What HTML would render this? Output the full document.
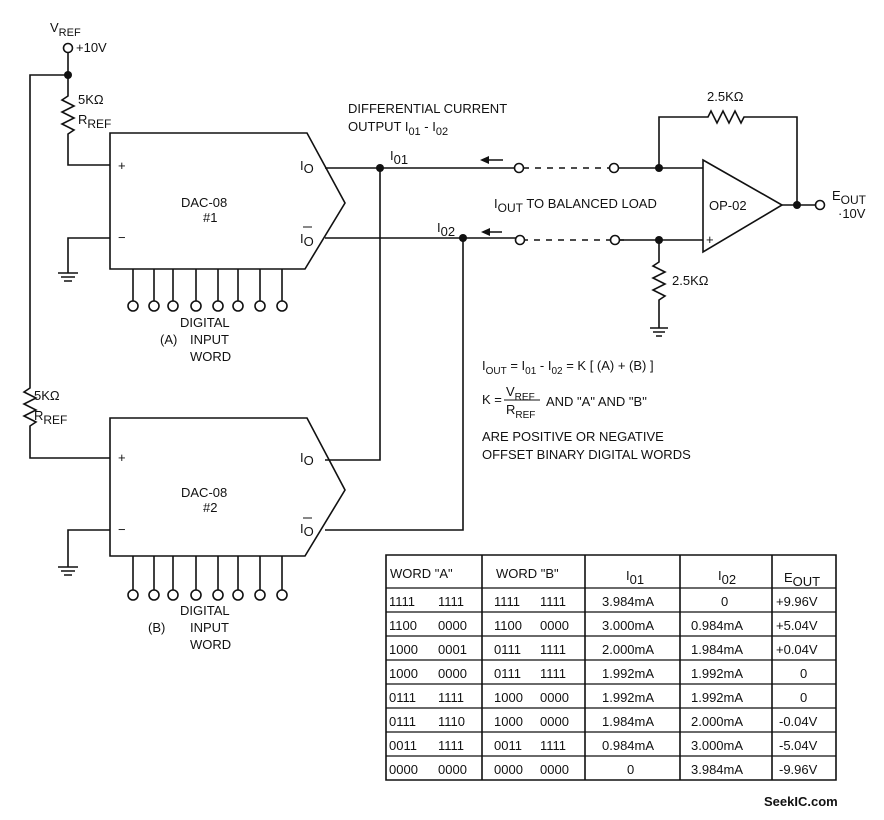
<!DOCTYPE html>
<html><head><meta charset="utf-8"><style>
body{margin:0;background:#fff}
svg{display:block}
text{font-family:"Liberation Sans",sans-serif;fill:#111;font-size:13px}
.s{font-size:9px}
</style></head><body>
<svg width="884" height="820" viewBox="0 0 884 820" xmlns="http://www.w3.org/2000/svg">
<g stroke="#111" stroke-width="1.6" fill="none">
<circle cx="68" cy="48" r="4.5" fill="#fff"/>
<path d="M68 52V96 l-6 4 12 6 -12 6 12 6 -12 6 12 6 -6 4 V165 H110"/>
<path d="M68 75H30V388 l-6 4 12 6 -12 6 12 6 -12 6 12 6 -6 4 V458H110"/>
<path d="M110 133H307L345 203L305 269H110Z"/>
<path d="M110 238H68V273"/>
<path d="M58 273H78M61 277H75M64 281H72"/>
<path d="M133 269V301M154 269V301M173 269V301M196 269V301M218 269V301M238 269V301M260 269V301M282 269V301"/>
<g fill="#fff"><circle cx="133" cy="306" r="5"/><circle cx="154" cy="306" r="5"/><circle cx="173" cy="306" r="5"/><circle cx="196" cy="306" r="5"/><circle cx="218" cy="306" r="5"/><circle cx="238" cy="306" r="5"/><circle cx="260" cy="306" r="5"/><circle cx="282" cy="306" r="5"/></g>
<path d="M110 418H307L345 490L305 556H110Z"/>
<path d="M110 530H68V567"/>
<path d="M58 567H78M61 571H75M64 575H72"/>
<path d="M133 556V590M154 556V590M173 556V590M196 556V590M218 556V590M238 556V590M260 556V590M282 556V590"/>
<g fill="#fff"><circle cx="133" cy="595" r="5"/><circle cx="154" cy="595" r="5"/><circle cx="173" cy="595" r="5"/><circle cx="196" cy="595" r="5"/><circle cx="218" cy="595" r="5"/><circle cx="238" cy="595" r="5"/><circle cx="260" cy="595" r="5"/><circle cx="282" cy="595" r="5"/></g>
<path d="M325 168H515M380 168V460H325M325 238H516M463 238V530H325"/>
<path d="M523 168H610M624 240H520" stroke-dasharray="6,6"/>
<path d="M618 168H703M619 240H703"/>
<circle cx="519" cy="168" r="4.5" fill="#fff"/><circle cx="614" cy="168" r="4.5" fill="#fff"/>
<circle cx="520" cy="240" r="4.5" fill="#fff"/><circle cx="615" cy="240" r="4.5" fill="#fff"/>
<path d="M488 160H503M489 232H502"/>
<path d="M703 160L782 205L703 252Z"/>
<path d="M659 168V117H708 l3 -6 6 12 6 -12 6 12 6 -12 6 12 3 -6 H797V205H782M797 205H815"/>
<circle cx="820" cy="205" r="4.5" fill="#fff"/>
<path d="M659 240V262 l-6 4 12 6 -12 6 12 6 -12 6 12 6 -6 4 V328M650 328H668M653 332H665M656 336H662"/>
<path d="M386 555H836V780H386Z M482 555V780M585 555V780M680 555V780M772 555V780"/>
<path d="M386 588H836M386 612H836M386 636H836M386 660H836M386 684H836M386 708H836M386 732H836M386 756H836" stroke-width="1.2"/>
</g>
<g fill="#111"><circle cx="68" cy="75" r="4"/><circle cx="380" cy="168" r="4"/><circle cx="463" cy="238" r="4"/><circle cx="659" cy="168" r="4"/><circle cx="659" cy="240" r="4"/><circle cx="797" cy="205" r="4"/>
<path d="M480 160L489 156V164Z"/><path d="M481 232L490 228V236Z"/></g>
<text x="50" y="32">V<tspan font-size="11" dy="4">REF</tspan></text>
<text x="76" y="52" font-size="12">+10V</text>
<text x="78" y="104" font-size="12">5KΩ</text>
<text x="78" y="124" font-size="13">R<tspan font-size="12" dy="4">REF</tspan></text>
<text x="34" y="400" font-size="12">5KΩ</text>
<text x="34" y="420" font-size="13">R<tspan font-size="12" dy="4">REF</tspan></text>
<text x="118" y="170" font-size="13">+</text><text x="118" y="242" font-size="13">−</text>
<text x="118" y="462" font-size="13">+</text><text x="118" y="534" font-size="13">−</text>
<text x="181" y="207" font-size="13">DAC-08</text><text x="203" y="222" font-size="13">#1</text>
<text x="181" y="497" font-size="13">DAC-08</text><text x="203" y="512" font-size="13">#2</text>
<text x="300" y="170" font-size="12">I<tspan dy="3">O</tspan></text>
<text x="300" y="243" font-size="12">I<tspan dy="3">O</tspan></text>
<path d="M303 227H312" stroke="#111"/>
<text x="300" y="462" font-size="12">I<tspan dy="3">O</tspan></text>
<text x="300" y="533" font-size="12">I<tspan dy="3">O</tspan></text>
<path d="M303 518H312" stroke="#111"/>
<text x="180" y="327" font-size="13">DIGITAL</text>
<text x="160" y="344" font-size="13">(A)</text><text x="190" y="344" font-size="13">INPUT</text>
<text x="190" y="361" font-size="13">WORD</text>
<text x="180" y="615" font-size="13">DIGITAL</text>
<text x="148" y="632" font-size="13">(B)</text><text x="190" y="632" font-size="13">INPUT</text>
<text x="190" y="649" font-size="13">WORD</text>
<text x="348" y="113" font-size="12">DIFFERENTIAL CURRENT</text>
<text x="348" y="131" font-size="12">OUTPUT  I<tspan font-size="11" dy="4">01</tspan><tspan dy="-4"> - I</tspan><tspan font-size="11" dy="4">02</tspan></text>
<text x="390" y="160" font-size="12">I<tspan dy="4">01</tspan></text>
<text x="437" y="232" font-size="12">I<tspan dy="4">02</tspan></text>
<text x="494" y="208" font-size="13">I<tspan font-size="12" dy="4">OUT</tspan><tspan dy="-4"> TO BALANCED LOAD</tspan></text>
<text x="709" y="210" font-size="13">OP-02</text>
<text x="706" y="244" font-size="10">+</text>
<text x="707" y="101" font-size="12">2.5KΩ</text>
<text x="672" y="285" font-size="12">2.5KΩ</text>
<text x="832" y="200" font-size="13">E<tspan font-size="12" dy="4">OUT</tspan></text>
<text x="838" y="218" font-size="12">·10V</text>
<text x="482" y="370" font-size="12">I<tspan font-size="10" dy="4">OUT</tspan><tspan dy="-4"> = I</tspan><tspan font-size="10" dy="4">01</tspan><tspan dy="-4"> - I</tspan><tspan font-size="10" dy="4">02</tspan><tspan dy="-4"> = K [ (A) + (B) ]</tspan></text>
<text x="482" y="404" font-size="12">K =</text>
<text x="506" y="396" font-size="12">V<tspan font-size="10" dy="4">REF</tspan></text>
<path d="M504 400H540" stroke="#111"/>
<text x="506" y="414" font-size="12">R<tspan font-size="10" dy="4">REF</tspan></text>
<text x="546" y="406" font-size="12">AND "A" AND "B"</text>
<text x="482" y="441" font-size="12">ARE POSITIVE OR NEGATIVE</text>
<text x="482" y="459" font-size="12">OFFSET BINARY DIGITAL WORDS</text>
<g font-size="14">
<text x="390" y="578">WORD "A"</text><text x="496" y="578">WORD "B"</text>
<text x="626" y="580">I<tspan font-size="13" dy="4">01</tspan></text><text x="718" y="580">I<tspan font-size="13" dy="4">02</tspan></text>
<text x="784" y="582">E<tspan font-size="13" dy="4">OUT</tspan></text>
</g>
<g font-size="14">
<text x="389" y="606">1111</text><text x="438" y="606">1111</text><text x="494" y="606">1111</text><text x="540" y="606">1111</text><text x="602" y="606">3.984mA</text><text x="721" y="606">0</text><text x="776" y="606">+9.96V</text>
<text x="389" y="630">1100</text><text x="438" y="630">0000</text><text x="494" y="630">1100</text><text x="540" y="630">0000</text><text x="602" y="630">3.000mA</text><text x="691" y="630">0.984mA</text><text x="776" y="630">+5.04V</text>
<text x="389" y="654">1000</text><text x="438" y="654">0001</text><text x="494" y="654">0111</text><text x="540" y="654">1111</text><text x="602" y="654">2.000mA</text><text x="691" y="654">1.984mA</text><text x="776" y="654">+0.04V</text>
<text x="389" y="678">1000</text><text x="438" y="678">0000</text><text x="494" y="678">0111</text><text x="540" y="678">1111</text><text x="602" y="678">1.992mA</text><text x="691" y="678">1.992mA</text><text x="800" y="678">0</text>
<text x="389" y="702">0111</text><text x="438" y="702">1111</text><text x="494" y="702">1000</text><text x="540" y="702">0000</text><text x="602" y="702">1.992mA</text><text x="691" y="702">1.992mA</text><text x="800" y="702">0</text>
<text x="389" y="726">0111</text><text x="438" y="726">1110</text><text x="494" y="726">1000</text><text x="540" y="726">0000</text><text x="602" y="726">1.984mA</text><text x="691" y="726">2.000mA</text><text x="779" y="726">-0.04V</text>
<text x="389" y="750">0011</text><text x="438" y="750">1111</text><text x="494" y="750">0011</text><text x="540" y="750">1111</text><text x="602" y="750">0.984mA</text><text x="691" y="750">3.000mA</text><text x="779" y="750">-5.04V</text>
<text x="389" y="774">0000</text><text x="438" y="774">0000</text><text x="494" y="774">0000</text><text x="540" y="774">0000</text><text x="627" y="774">0</text><text x="691" y="774">3.984mA</text><text x="779" y="774">-9.96V</text>
</g>
<text x="764" y="806" font-size="13" font-weight="bold">SeekIC.com</text>
</svg>
</body></html>
